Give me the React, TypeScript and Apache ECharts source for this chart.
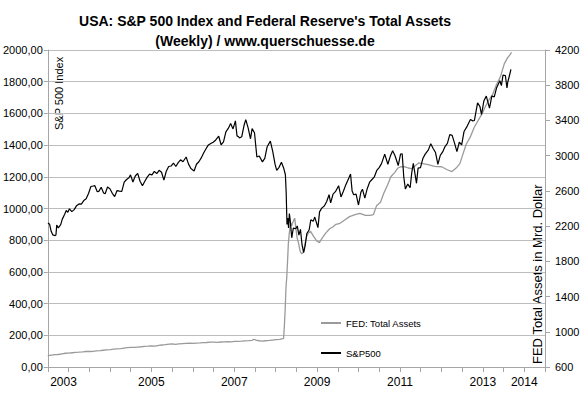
import React, { useEffect, useRef } from "react";
import * as echarts from "echarts";

// ---------- DATA ----------
const titleLine1 = "USA: S&P 500 Index and Federal Reserve's Total Assets";
const titleLine2 = "(Weekly) / www.querschuesse.de";
const leftAxisName = "S&P 500 Index";
const rightAxisName = "FED Total Assets in Mrd. Dollar";
const seriesNames = ["FED: Total Assets", "S&P500"];
const yearLabels = [2003, 2005, 2007, 2009, 2011, 2013, 2014];

const spDates = [
  "2003-01-03","2003-01-17","2003-01-31","2003-02-14","2003-03-07","2003-03-14","2003-03-21","2003-04-04","2003-04-25","2003-05-09",
  "2003-05-30","2003-06-13","2003-06-27","2003-07-11","2003-08-01","2003-08-22","2003-09-12","2003-10-03","2003-10-24","2003-11-14",
  "2003-12-05","2003-12-26","2004-01-16","2004-02-06","2004-02-20","2004-03-12","2004-03-26","2004-04-16","2004-05-07","2004-05-21",
  "2004-06-11","2004-07-02","2004-07-23","2004-08-13","2004-09-03","2004-09-24","2004-10-15","2004-11-05","2004-11-26","2004-12-17",
  "2004-12-31","2005-01-21","2005-02-11","2005-03-04","2005-03-25","2005-04-15","2005-05-06","2005-05-27","2005-06-17","2005-07-08",
  "2005-07-29","2005-08-19","2005-09-09","2005-09-30","2005-10-21","2005-11-11","2005-12-02","2005-12-23","2006-01-13","2006-02-03",
  "2006-02-24","2006-03-17","2006-04-07","2006-05-05","2006-05-26","2006-06-16","2006-07-14","2006-08-04","2006-08-25","2006-09-15",
  "2006-10-06","2006-10-27","2006-11-17","2006-12-08","2006-12-29","2007-01-19","2007-02-16","2007-03-09","2007-03-30","2007-04-20",
  "2007-05-11","2007-06-01","2007-06-22","2007-07-13","2007-07-27","2007-08-10","2007-08-17","2007-09-07","2007-09-28","2007-10-12",
  "2007-11-02","2007-11-23","2007-12-07","2007-12-28","2008-01-18","2008-02-08","2008-03-07","2008-03-28","2008-04-18","2008-05-16",
  "2008-06-06","2008-06-27","2008-07-11","2008-08-01","2008-08-22","2008-09-12","2008-09-26","2008-10-03","2008-10-10","2008-10-17",
  "2008-10-24","2008-10-31","2008-11-07","2008-11-21","2008-12-05","2008-12-26","2009-01-09","2009-01-23","2009-02-06","2009-02-20",
  "2009-03-06","2009-03-20","2009-04-03","2009-04-24","2009-05-08","2009-05-29","2009-06-12","2009-07-10","2009-07-24","2009-08-14",
  "2009-09-04","2009-09-25","2009-10-16","2009-10-30","2009-11-20","2009-12-11","2010-01-08","2010-01-29","2010-02-19","2010-03-12",
  "2010-04-09","2010-04-23","2010-05-07","2010-05-21","2010-06-11","2010-07-02","2010-07-23","2010-08-06","2010-08-27","2010-09-17",
  "2010-10-08","2010-10-29","2010-11-19","2010-12-10","2010-12-31","2011-01-21","2011-02-18","2011-03-18","2011-04-08","2011-04-29",
  "2011-05-20","2011-06-17","2011-07-08","2011-07-22","2011-08-05","2011-08-19","2011-09-09","2011-09-30","2011-10-14","2011-10-28",
  "2011-11-25","2011-12-09","2011-12-30","2012-01-20","2012-02-10","2012-03-09","2012-03-30","2012-04-20","2012-05-11","2012-06-01",
  "2012-06-22","2012-07-13","2012-08-03","2012-08-24","2012-09-14","2012-10-05","2012-10-26","2012-11-16","2012-12-07","2012-12-28",
  "2013-01-18","2013-02-15","2013-03-15","2013-04-05","2013-04-19","2013-05-17","2013-06-07","2013-06-21","2013-07-12","2013-08-02",
  "2013-08-30","2013-09-20","2013-10-11","2013-11-01","2013-11-29","2013-12-13","2013-12-27","2014-01-17","2014-01-31","2014-02-07",
  "2014-02-21","2014-03-07"
];
const spValues = [
  909,901,856,834,829,833,895,878,898,933,
  964,988,976,998,980,993,1018,1029,1028,1050,
  1061,1095,1139,1142,1144,1106,1108,1134,1098,1093,
  1136,1125,1096,1075,1113,1110,1108,1166,1183,1194,
  1212,1167,1205,1222,1172,1143,1172,1198,1217,1212,
  1234,1220,1241,1229,1179,1235,1265,1268,1287,1265,
  1289,1307,1295,1325,1280,1252,1237,1279,1295,1319,
  1350,1377,1401,1410,1418,1431,1456,1402,1421,1484,
  1505,1536,1502,1553,1458,1453,1445,1453,1527,1561,
  1509,1440,1504,1478,1325,1331,1294,1316,1390,1425,
  1360,1278,1240,1260,1292,1252,1213,1099,899,940,
  877,968,930,815,876,872,890,832,868,770,
  722,768,842,866,929,919,946,879,979,1004,
  1016,1044,1087,1036,1091,1106,1144,1073,1109,1149,
  1194,1217,1111,1087,1091,1022,1102,1122,1065,1125,
  1166,1183,1200,1240,1258,1283,1343,1279,1329,1364,
  1333,1271,1344,1345,1199,1123,1154,1131,1225,1285,
  1159,1255,1258,1315,1343,1370,1408,1379,1353,1278,
  1335,1357,1391,1411,1466,1461,1412,1359,1418,1402,
  1486,1520,1561,1553,1555,1667,1643,1593,1680,1709,
  1633,1710,1704,1762,1806,1775,1841,1839,1760,1797,
  1836,1878
];

const fedDates = [
  "2003-01-01","2003-02-05","2003-03-05","2003-04-02","2003-05-07","2003-06-04","2003-07-02","2003-08-06","2003-09-03","2003-10-01",
  "2003-11-05","2003-12-03","2004-01-07","2004-02-04","2004-03-03","2004-04-07","2004-05-05","2004-06-02","2004-07-07","2004-08-04",
  "2004-09-01","2004-10-06","2004-11-03","2004-12-01","2005-01-05","2005-02-02","2005-03-02","2005-04-06","2005-05-04","2005-06-01",
  "2005-07-06","2005-08-03","2005-09-07","2005-10-05","2005-11-02","2005-12-07","2006-01-04","2006-02-01","2006-03-01","2006-04-05",
  "2006-05-03","2006-06-07","2006-07-05","2006-08-02","2006-09-06","2006-10-04","2006-11-01","2006-12-06","2007-01-03","2007-02-07",
  "2007-03-07","2007-04-04","2007-05-02","2007-06-06","2007-07-04","2007-08-01","2007-09-05","2007-10-03","2007-11-07","2007-12-05",
  "2007-12-26","2008-01-09","2008-02-06","2008-03-05","2008-04-02","2008-05-07","2008-06-04","2008-07-02","2008-08-06","2008-09-03",
  "2008-09-10","2008-09-17","2008-09-24","2008-10-01","2008-10-08","2008-10-15","2008-10-22","2008-10-29","2008-11-05","2008-11-12",
  "2008-11-19","2008-12-03","2008-12-17","2009-01-07","2009-01-21","2009-02-04","2009-02-18","2009-03-04","2009-03-18","2009-04-01",
  "2009-04-15","2009-05-06","2009-06-03","2009-07-01","2009-07-22","2009-08-19","2009-09-16","2009-10-21","2009-11-18","2009-12-16",
  "2010-01-20","2010-03-03","2010-04-14","2010-06-02","2010-07-14","2010-09-01","2010-10-13","2010-11-10","2010-12-08","2011-01-12",
  "2011-02-09","2011-03-16","2011-04-13","2011-05-18","2011-06-15","2011-07-13","2011-08-17","2011-09-14","2011-10-12","2011-12-14",
  "2012-01-18","2012-03-07","2012-05-02","2012-07-04","2012-08-22","2012-10-03","2012-11-07","2012-12-12","2013-01-09","2013-02-06",
  "2013-03-13","2013-04-17","2013-05-22","2013-06-19","2013-07-24","2013-08-28","2013-09-25","2013-10-30","2013-12-04","2014-01-08",
  "2014-02-05","2014-02-26","2014-03-12"
];
const fedValues = [
  728,735,740,742,750,756,758,762,765,768,
  772,776,776,778,782,786,790,794,798,802,
  806,808,815,820,824,822,826,830,834,836,
  840,838,846,850,854,860,862,858,862,866,
  868,870,869,872,874,876,878,882,882,880,
  884,886,888,886,890,892,894,897,900,903,
  915,905,898,894,898,902,906,910,914,922,
  926,1070,1250,1500,1620,1800,2000,2100,2180,2240,
  2200,2250,2290,2070,2000,1910,1885,1905,2000,2080,
  2120,2140,2080,2030,2012,2070,2120,2170,2190,2220,
  2232,2270,2308,2330,2345,2322,2322,2330,2430,2470,
  2570,2670,2760,2810,2860,2875,2872,2860,2852,2918,
  2910,2898,2878,2874,2840,2820,2856,2910,3020,3130,
  3210,3320,3400,3460,3555,3640,3690,3805,3895,4045,
  4110,4145,4172
];

// ---------- HELPERS ----------
function toYear(d: string): number {
  const [y, m, dd] = d.split("-").map(Number);
  const start = Date.UTC(y, 0, 1);
  const end = Date.UTC(y + 1, 0, 1);
  return y + (Date.UTC(y, m - 1, dd) - start) / (end - start);
}

const FONT = "'Liberation Sans', Arial, sans-serif";
const GRID_COLOR = "#bdbdbd";
const AXIS_COLOR = "#a6a6a6";
const FED_COLOR = "#9a9a9a";
const SP_COLOR = "#000000";

export default function App() {
  const ref = useRef<HTMLDivElement>(null);

  useEffect(() => {
    if (!ref.current) return;
    const chart = echarts.init(ref.current, undefined, { renderer: "svg" });

    const spData = spDates.map((d, i) => [toYear(d), spValues[i]]);
    const fedData = fedDates.map((d, i) => [toYear(d), fedValues[i]]);

    const option: any = {
      animation: false,
      backgroundColor: "#ffffff",
      grid: { left: 47, right: 40, top: 50, bottom: 35, containLabel: false },
      legend: {
        data: [
          { name: seriesNames[0], icon: "rect" },
          { name: seriesNames[1], icon: "rect" },
        ],
        orient: "vertical",
        left: 316,
        top: 313,
        itemWidth: 20,
        itemHeight: 2,
        itemGap: 20,
        selectedMode: false,
        textStyle: { fontFamily: FONT, fontSize: 9.5, color: "#000" },
      },
      graphic: [
        {
          type: "text",
          x: 265,
          y: 21,
          style: {
            text: titleLine1,
            fontFamily: FONT,
            fontSize: 14,
            fontWeight: "bold",
            fill: "#000",
            textAlign: "center",
            textVerticalAlign: "middle",
          },
        },
        {
          type: "text",
          x: 265,
          y: 41,
          style: {
            text: titleLine2,
            fontFamily: FONT,
            fontSize: 14,
            fontWeight: "bold",
            fill: "#000",
            textAlign: "center",
            textVerticalAlign: "middle",
          },
        },
        {
          type: "text",
          x: 59,
          y: 130,
          rotation: Math.PI / 2,
          style: {
            text: leftAxisName,
            fontFamily: FONT,
            fontSize: 11,
            fill: "#000",
            textAlign: "left",
            textVerticalAlign: "middle",
          },
        },
        {
          type: "text",
          x: 537,
          y: 364,
          rotation: Math.PI / 2,
          style: {
            text: rightAxisName,
            fontFamily: FONT,
            fontSize: 13,
            fill: "#000",
            textAlign: "left",
            textVerticalAlign: "middle",
          },
        },
      ],
      xAxis: {
        type: "value",
        min: 2003,
        max: 2015,
        interval: 0.5,
        splitLine: { show: false },
        axisLine: { show: true, lineStyle: { color: AXIS_COLOR, width: 1 } },
        axisTick: { show: true, length: 5, lineStyle: { color: AXIS_COLOR } },
        axisLabel: {
          margin: 9,
          fontFamily: FONT,
          fontSize: 12,
          color: "#000",
          formatter: (v: number) => {
            const fl = Math.floor(v + 1e-9);
            if (Math.abs(v - fl - 0.5) > 1e-6) return "";
            if (!yearLabels.includes(fl)) return "";
            if (fl === yearLabels[0]) return "{first|" + fl + "}";
            return String(fl);
          },
          rich: {
            first: { padding: [0, 10, 0, 0], fontFamily: FONT, fontSize: 12, color: "#000" },
          },
        },
      },
      yAxis: [
        {
          type: "value",
          min: 0,
          max: 2000,
          interval: 200,
          position: "left",
          axisLine: { show: true, lineStyle: { color: AXIS_COLOR } },
          axisTick: { show: true, length: 4, lineStyle: { color: AXIS_COLOR } },
          splitLine: { show: true, lineStyle: { color: GRID_COLOR, width: 1 } },
          axisLabel: {
            margin: 5,
            fontFamily: FONT,
            fontSize: 11,
            color: "#000",
            formatter: (v: number) => v.toFixed(2).replace(".", ","),
          },
        },
        {
          type: "value",
          min: 600,
          max: 4200,
          interval: 400,
          position: "right",
          alignTicks: false,
          axisLine: { show: true, lineStyle: { color: AXIS_COLOR } },
          axisTick: { show: true, length: 5, lineStyle: { color: AXIS_COLOR } },
          splitLine: { show: false },
          axisLabel: {
            margin: 10,
            fontFamily: FONT,
            fontSize: 11,
            color: "#000",
            formatter: (v: number) => String(Math.round(v)),
          },
        },
      ],
      series: [
        {
          name: seriesNames[0],
          type: "line",
          yAxisIndex: 1,
          data: fedData,
          showSymbol: false,
          symbol: "none",
          lineStyle: { color: FED_COLOR, width: 1.3 },
          itemStyle: { color: FED_COLOR },
          z: 2,
        },
        {
          name: seriesNames[1],
          type: "line",
          yAxisIndex: 0,
          data: spData,
          showSymbol: false,
          symbol: "none",
          lineStyle: { color: SP_COLOR, width: 1.2 },
          itemStyle: { color: SP_COLOR },
          z: 3,
        },
      ],
    };

    chart.setOption(option);
    return () => chart.dispose();
  }, []);

  return <div ref={ref} style={{ width: 585, height: 402, position: "absolute", left: 0, top: 0 }} />;
}
